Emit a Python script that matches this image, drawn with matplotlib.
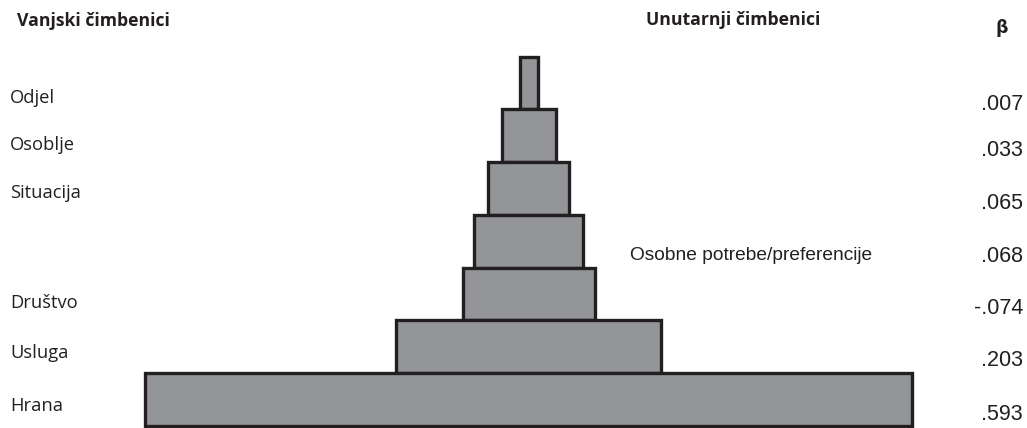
import matplotlib.pyplot as plt

# Stupnjevi piramide (od vrha prema dnu)
bar_widths = [18, 54, 81, 109, 132, 265, 767]
left_labels = ["Odjel", "Osoblje", "Situacija", "", "Društvo", "Usluga", "Hrana"]
beta_values = [".007", ".033", ".065", ".068", "-.074", ".203", ".593"]
inner_label = "Osobne potrebe/preferencije"
inner_row = 3

# Raspored (pikseli)
W, H = 1027, 428
center_x = 528.5
top_y = 56.7
row_h = 52.7
label_y = [98, 145, 193, None, 303, 353, 406]
beta_y = [104, 150, 203, 256, 309, 360, 414]

fill = "#939598"
edge = "#231f20"
txt = "#231f20"

fig = plt.figure(figsize=(W / 100, H / 100), dpi=100)
ax = fig.add_axes([0, 0, 1, 1])
ax.set_xlim(0, W)
ax.set_ylim(H, 0)
ax.axis("off")

ys = [top_y + row_h * (i + 0.5) for i in range(len(bar_widths))]
lefts = [center_x - w / 2 for w in bar_widths]
ax.barh(ys, bar_widths, height=row_h, left=lefts, color=fill,
        edgecolor=edge, linewidth=2.4, zorder=2)

lab_font = dict(family=["Open Sans", "DejaVu Sans"], fontsize=13.2, color=txt)
for lab, y in zip(left_labels, label_y):
    if lab:
        ax.text(10, y, lab, ha="left", va="center", **lab_font)

num_font = dict(family=["Liberation Sans", "DejaVu Sans"], fontsize=15.5, color=txt)
for val, y in zip(beta_values, beta_y):
    ax.text(1023, y, val, ha="right", va="center", **num_font)

ax.text(630, beta_y[inner_row], inner_label, ha="left", va="center",
        family=["Liberation Sans", "DejaVu Sans"], fontsize=13.8, color=txt)

head_font = dict(family=["Open Sans", "DejaVu Sans"], fontsize=12.7,
                 fontweight="bold", color=txt)
ax.text(17, 21, "Vanjski čimbenici", ha="left", va="center", **head_font)
ax.text(646, 20, "Unutarnji čimbenici", ha="left", va="center", **head_font)
ax.text(1002, 28, "β", ha="center", va="center",
        family=["DejaVu Sans"], fontsize=12.5, fontweight="bold", color=txt)

fig.savefig("out.png", dpi=100)
